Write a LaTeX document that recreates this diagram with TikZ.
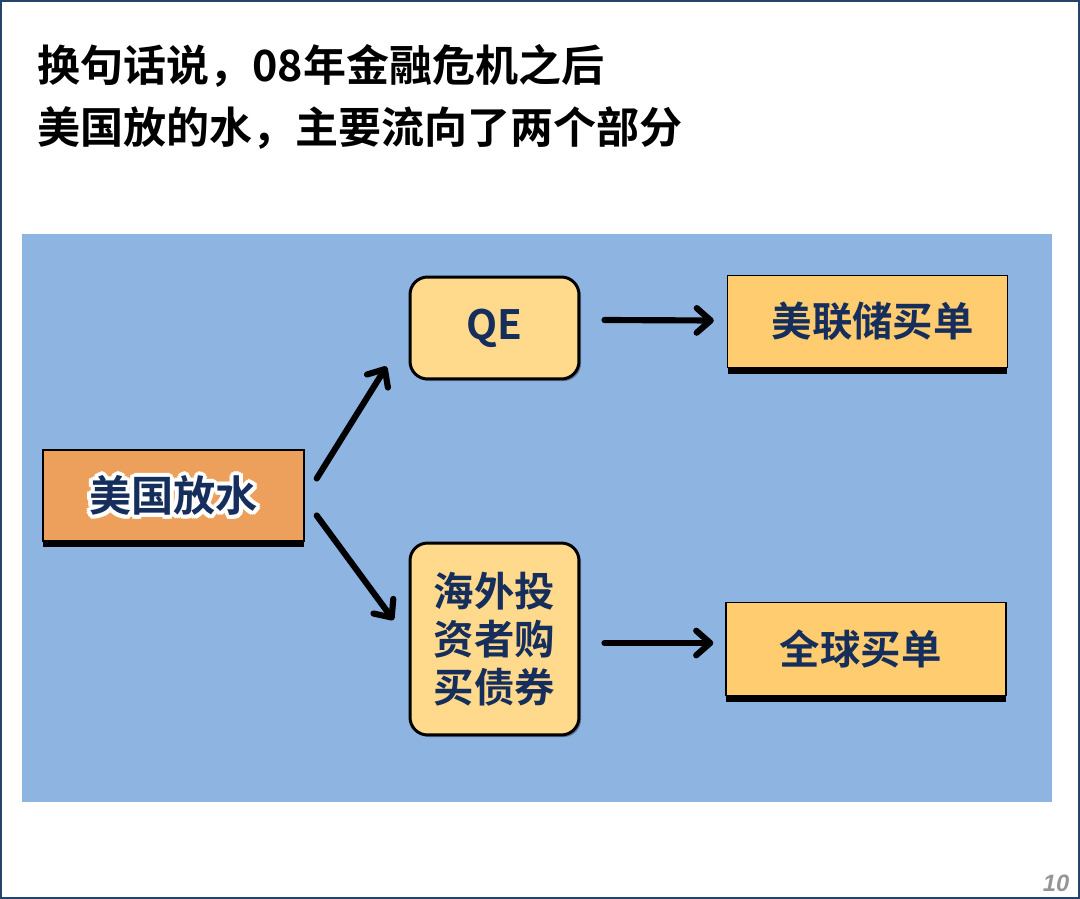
\documentclass[tikz,border=0pt]{standalone}
\usepackage{fontspec}
\setmainfont{Noto Sans CJK SC}[BoldFont={Noto Sans CJK SC Bold}]
\newfontfamily\pagefont{Liberation Sans}
\usetikzlibrary{arrows.meta, positioning, shadows}
\usepackage{xcolor}
\definecolor{panelblue}{RGB}{142, 180, 226}
\definecolor{wateror}{RGB}{236, 160, 92}
\definecolor{qeyellow}{RGB}{255, 217, 140}
\definecolor{buygold}{RGB}{255, 205, 112}
\definecolor{textnavy}{RGB}{22, 46, 92}
\definecolor{framenavy}{RGB}{40, 66, 110}
\definecolor{pagegray}{RGB}{150, 150, 150}

\begin{document}
\begin{tikzpicture}[
    x=0.02cm, y=-0.02cm,
    flatbox/.style={rectangle, draw=black, line width=0.8pt, minimum width=5.6cm, minimum height=1.85cm, align=center, font=\fontsize{23}{28}\selectfont\bfseries, text=textnavy, drop shadow={shadow xshift=0pt, shadow yshift=-3.6pt, opacity=1, fill=black}},
    roundbox/.style={rectangle, draw=black, line width=1.7pt, rounded corners=10pt, fill=qeyellow, minimum width=3.38cm, align=center, font=\fontsize{23}{27.3}\selectfont\bfseries, text=textnavy, drop shadow={shadow xshift=1.2pt, shadow yshift=-1.2pt, opacity=0.3, fill=black}},
    glow/.style={text=white, font=\fontsize{24}{28}\selectfont\bfseries},
    arrow/.style={-{Straight Barb[length=8pt, width=14pt, round]}, line width=3.5pt, line cap=round, color=black}
]
\useasboundingbox (0,0) rectangle (1080,899);

% Frame
\draw[framenavy, line width=1.2pt] (1,1) rectangle (1079,898);

% Title
\node[anchor=west, align=left, inner sep=0pt, font=\fontsize{24.5}{35}\selectfont\bfseries, text=black] (title) at (37,97) {换句话说，08年金融危机之后\\美国放的水，主要流向了两个部分};

% Panel
\fill[panelblue] (22,234) rectangle (1052,802);

% US money
\node[flatbox, fill=wateror, minimum width=5.22cm, minimum height=1.82cm] (water) at (173.5,495.5) {};
\foreach \a in {0,30,...,330}
    \node[glow] (glow\a) at ([shift={(\a:4)}]water.center) {美国放水};
\node[font=\fontsize{24}{28}\selectfont\bfseries, text=textnavy] (waterlabel) at (water.center) {美国放水};

% QE
\node[roundbox, minimum height=2.04cm] (qe) at (494.5,328) {QE};

% Fed
\node[flatbox, fill=buygold] (fed) at (867.5,321.5) {\hspace{6pt}美联储买单};

% Overseas investors
\node[roundbox, minimum height=3.84cm] (bonds) at (494.5,639) {海外投\\资者购\\买债券};

% Global
\node[flatbox, fill=buygold] (global) at (866,649) {全球买单\hspace{6pt}};

% Arrows
\draw[arrow] ([shift={(12,-17)}]water.east) -- ([shift={(-22,-14)}]qe.south west);
\draw[arrow] ([shift={(12,20)}]water.east) -- ([shift={(-15,-19)}]bonds.west);
\draw[arrow] ([shift={(24,-8)}]qe.east) -- ([shift={(-13,-1)}]fed.west);
\draw[arrow] ([shift={(24,4)}]bonds.east) -- ([shift={(-12,-6)}]global.west);

% Page number
\node[text=pagegray, font=\pagefont\fontsize{13.5}{16}\selectfont\bfseries\itshape] (pagenum) at (1056,883) {10};

\end{tikzpicture}
\end{document}
